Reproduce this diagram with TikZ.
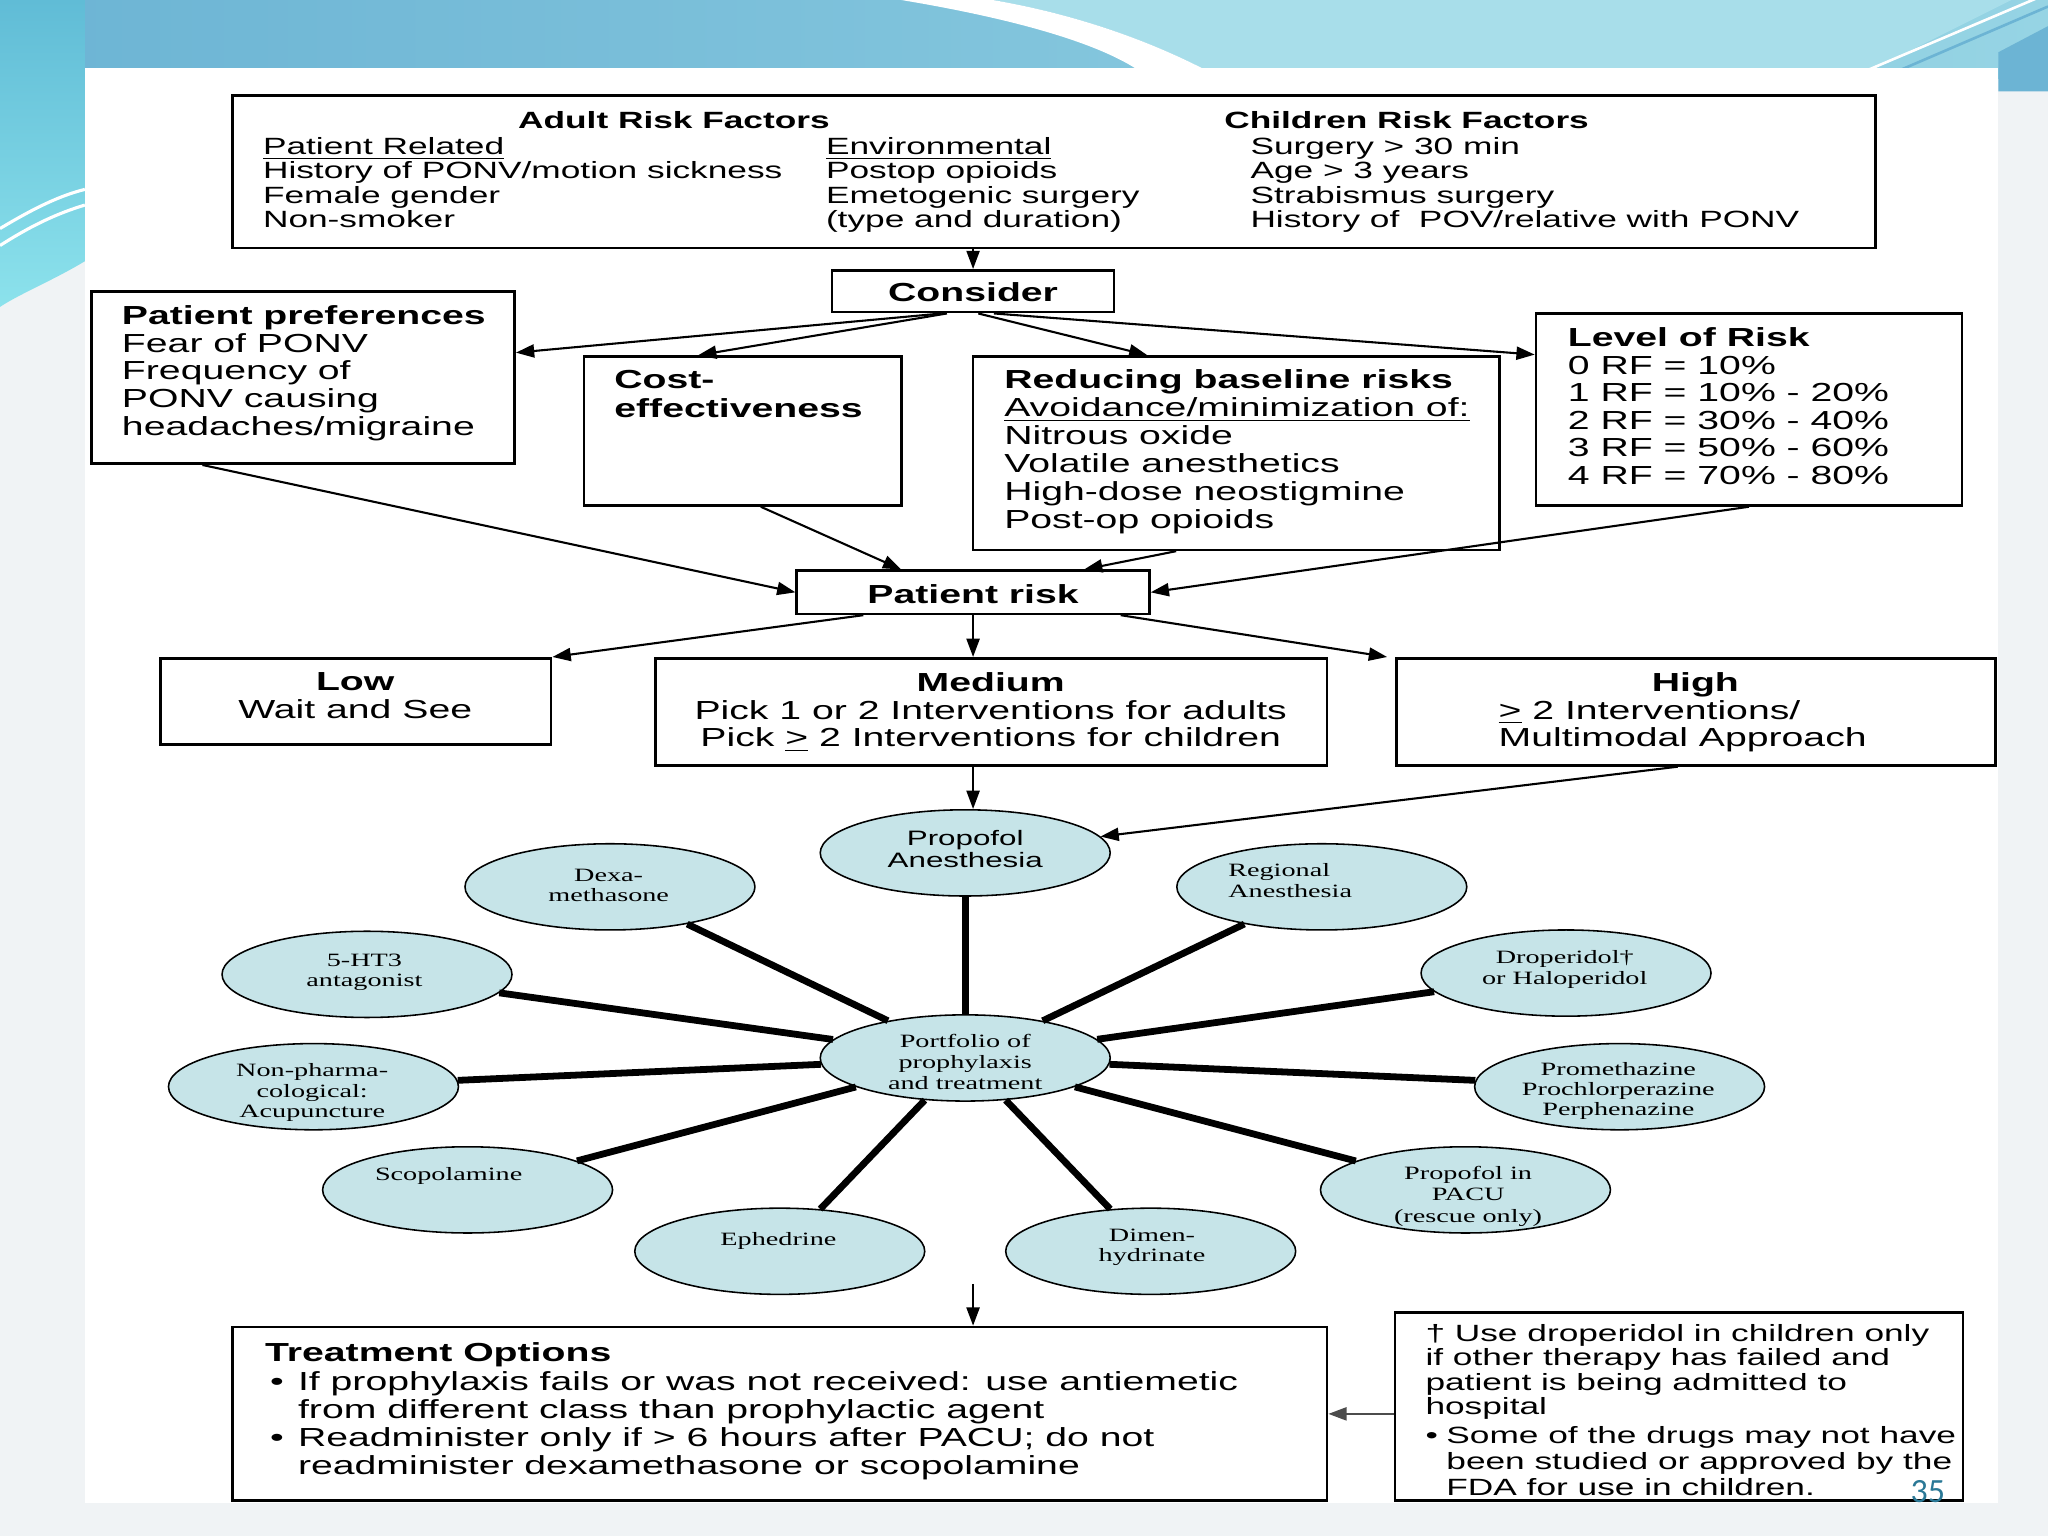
\documentclass[tikz,border=0pt]{standalone}
\usepackage{fontspec}
\setmainfont{Liberation Sans}[FakeStretch=1.5]
\newfontfamily\serstretch{Liberation Serif}[FakeStretch=1.5]
\newfontfamily\pagenumfont{Carlito}
\usetikzlibrary{arrows.meta, shapes.geometric, fit}
\definecolor{ellfill}{RGB}{198,228,232}
\definecolor{bgpat}{RGB}{240,243,245}
\definecolor{topL}{RGB}{108,180,212}
\definecolor{topR}{RGB}{150,212,228}
\definecolor{topLight}{RGB}{168,222,234}
\definecolor{leftA}{RGB}{96,188,214}
\definecolor{leftB}{RGB}{140,226,236}
\definecolor{pagenum}{RGB}{42,120,150}
\tikzset{
  box/.style={draw, line width=1pt, rectangle, inner sep=0pt},
  tx/.style={inner sep=0pt, align=left, anchor=north west},
  f9/.style={font=\fontsize{9}{9.35}\selectfont},
  f10/.style={font=\fontsize{10}{10.55}\selectfont},
  arr/.style={line width=0.8pt, -{Triangle[length=7pt,width=5pt]}},
  ell/.style={ellipse, draw, line width=0.6pt, fill=ellfill, inner sep=0pt, minimum width=111pt, minimum height=33pt},
  et/.style={inner sep=0pt, align=center, anchor=north, font=\serstretch\fontsize{7.2}{8}\selectfont},
  spoke/.style={line width=2.6pt},
}
\begin{document}
\begin{tikzpicture}[x=0.5pt, y=-0.5pt]
\useasboundingbox (0,0) rectangle (1568,1176);
% ---------- slide background ----------
\fill[bgpat] (0,0) rectangle (1568,1176);
\shade[left color=topL, right color=topR] (0,0) rectangle (1568,60);
\fill[topLight] (760,0) .. controls (830,12) and (890,35) .. (935,60) -- (1420,60) -- (1540,0) -- cycle;
\fill[white] (690,0) .. controls (780,15) and (850,35) .. (880,60) -- (935,60) .. controls (890,35) and (830,12) .. (760,0) -- cycle;
\draw[white, line width=1pt] (1415,60) -- (1568,-5);
\draw[topL, line width=1pt] (1440,60) -- (1568,5);
\fill[topL] (1530,40) -- (1568,20) -- (1568,70) -- (1530,70) -- cycle;
\shade[top color=leftA, bottom color=leftB] (0,0) -- (65,0) -- (65,200) .. controls (40,215) and (15,225) .. (0,235) -- cycle;
\draw[white, line width=1.2pt] (0,175) .. controls (25,160) and (45,150) .. (65,145);
\draw[white, line width=1.2pt] (0,188) .. controls (25,172) and (45,163) .. (65,157);
\fill[white] (65,52) rectangle (1530,1151);
% ---------- boxes ----------
\node[box, fit={(178,73) (1436,190)}] (topbox) {};
\node[box, fit={(637,207) (853,239)}] (consider) {};
\node[box, fit={(70,223) (394,355)}] (pref) {};
\node[box, fit={(447,273) (690,387)}] (cost) {};
\node[box, fit={(745,273) (1148,421)}] (red) {};
\node[box, fit={(1176,240) (1502,387)}] (lor) {};
\node[box, fit={(610,437) (880,470)}] (prisk) {};
\node[box, fit={(123,504) (422,570)}] (low) {};
\node[box, fit={(502,504) (1016,586)}] (med) {};
\node[box, fit={(1069,504) (1528,586)}] (high) {};
\node[box, fit={(178,1016) (1016,1149)}] (treat) {};
\node[box, fit={(1068,1005) (1503,1149)}] (foot) {};
% ---------- texts ----------
\node[inner sep=0pt, anchor=north, font=\bfseries\fontsize{9}{9.35}\selectfont] (hA) at (516,84.6) {Adult Risk Factors};
\node[tx, font=\bfseries\fontsize{9}{9.35}\selectfont] (hC) at (937,84.6) {Children Risk Factors};
\node[tx,f9] (c1) at (201,104.6) {\underline{Patient Related}\\History of PONV/motion sickness\\Female gender\\Non-smoker};
\node[tx,f9] (c2) at (632,104.6) {\underline{Environmental}\\Postop opioids\\Emetogenic surgery\\(type and duration)};
\node[tx,f9] (c3) at (957,104.6) {Surgery > 30 min\\Age > 3 years\\Strabismus surgery\\History of\ \ POV/relative with PONV};
\node[inner sep=0pt, font=\bfseries\fontsize{10}{10.55}\selectfont] (constxt) at (745,224) {Consider};
\node[tx,f10] (preft) at (93,233.8) {\textbf{Patient preferences}\\Fear of PONV\\Frequency of\\PONV causing\\headaches/migraine};
\node[tx, font=\bfseries\fontsize{10}{11.3}\selectfont] (costt) at (470,282.8) {Cost-\\effectiveness};
\node[tx, font=\fontsize{10}{10.7}\selectfont] (redt) at (768.5,282.8) {\textbf{Reducing baseline risks}\\\underline{Avoidance/minimization of:}\\Nitrous oxide\\Volatile anesthetics\\High-dose neostigmine\\Post-op opioids};
\node[tx,f10] (lort) at (1200,250.6) {\textbf{Level of Risk}\\0 RF = 10\%\\1 RF = 10\% - 20\%\\2 RF = 30\% - 40\%\\3 RF = 50\% - 60\%\\4 RF = 70\% - 80\%};
\node[inner sep=0pt, font=\bfseries\fontsize{10}{10.55}\selectfont] (prt) at (745,455) {Patient risk};
\node[inner sep=0pt, align=center, anchor=north, f10] (lowt) at (272,514.8) {\textbf{Low}\\Wait and See};
\node[inner sep=0pt, align=center, anchor=north, font=\fontsize{10}{10.5}\selectfont] (medt) at (758.5,514.8) {\textbf{Medium}\\Pick 1 or 2 Interventions for adults\\Pick \underline{>} 2 Interventions for children};
\node[inner sep=0pt, anchor=north, font=\bfseries\fontsize{10}{10.5}\selectfont] (hight) at (1298,514.8) {High};
\node[tx, font=\fontsize{10}{10.5}\selectfont] (hight2) at (1147,535.8) {\underline{>} 2 Interventions/\\Multimodal Approach};
\node[tx, font=\bfseries\fontsize{10}{10.65}\selectfont] (treatt) at (202.6,1027.8) {Treatment Options};
\node[tx, font=\fontsize{10}{10.65}\selectfont] (treatb) at (206.5,1049.8) {\makebox[10.65pt][l]{•}If prophylaxis fails or was not received: use antiemetic\\\hspace*{10.65pt}from different class than prophylactic agent\\\makebox[10.65pt][l]{•}Readminister only if > 6 hours after PACU; do not\\\hspace*{10.65pt}readminister dexamethasone or scopolamine};
\node[tx,f9] (foott) at (1091,1013.6) {† Use droperidol in children only\\if other therapy has failed and\\patient is being admitted to\\hospital};
\node[tx, font=\fontsize{9}{10}\selectfont] (footb) at (1091,1091.6) {\makebox[8pt][l]{•}Some of the drugs may not have\\\hspace*{8pt}been studied or approved by the\\\hspace*{8pt}FDA for use in children.};
\node[inner sep=0pt, font=\pagenumfont\fontsize{13}{13}\selectfont, text=pagenum] (pnum) at (1476,1142) {35};
% ---------- flow arrows ----------
\draw[arr] (consider.north |- topbox.south) -- (consider.north);
\draw[arr] ([xshift=-12pt]consider.south) -- ([yshift=9.5pt]pref.east);
\draw[arr] ([xshift=-10pt]consider.south) -- ([xshift=-17pt]cost.north);
\draw[arr] ([xshift=2pt]consider.south) -- ([xshift=-34pt]red.north);
\draw[arr] ([xshift=8pt]consider.south) -- ([yshift=21pt]lor.west);
\draw[arr] ([xshift=-38.5pt]pref.south) -- (prisk.west);
\draw[arr] ([xshift=7pt]cost.south) -- ([xshift=-27.5pt]prisk.north);
\draw[arr] ([xshift=-23pt]red.south) -- ([xshift=42.5pt]prisk.north);
\draw[arr] (lor.south) -- (prisk.east);
\draw[arr] ([xshift=-42pt]prisk.south) -- (low.north east);
\draw[arr] (prisk.south) -- (prisk.south |- med.north);
\draw[arr] ([xshift=56.5pt]prisk.south) -- ([xshift=-3pt]high.north west);
% ---------- ellipses ----------
\node[ell] (prop) at (739,653) {};
\node[ell] (dexa) at (467,679) {};
\node[ell] (reg) at (1012,679) {};
\node[ell] (ht3) at (281,746) {};
\node[ell] (drop) at (1199,745) {};
\node[ell] (nonph) at (240,832) {};
\node[ell] (prom) at (1240,832) {};
\node[ell] (port) at (739,810) {};
\node[ell] (scop) at (358,911) {};
\node[ell] (pacu) at (1122,911) {};
\node[ell] (eph) at (597,958) {};
\node[ell] (dimen) at (881,958) {};
\draw[arr] (prisk.south |- med.south) -- (prisk.south |- prop.north);
\draw[arr] ([xshift=-7pt]high.south) -- (prop);
\foreach \e in {prop,dexa,reg,ht3,drop,nonph,prom,scop,pacu,eph,dimen}
  \draw[spoke] (port) -- (\e);
% ellipse texts
\node[inner sep=0pt, align=center, anchor=north, font=\fontsize{8}{8.5}\selectfont] (propt) at (739,635.3) {Propofol\\Anesthesia};
\node[et] (dexat) at (466,664.7) {Dexa-\\methasone};
\node[tx, font=\serstretch\fontsize{7.2}{7.75}\selectfont] (regt) at (940,660.9) {Regional\\Anesthesia};
\node[et] (ht3t) at (279,729.7) {5-HT3\\antagonist};
\node[et] (dropt) at (1198,727.2) {Droperidol†\\or Haloperidol};
\node[et, font=\serstretch\fontsize{7.2}{7.9}\selectfont] (nonpht) at (239,813.9) {Non-pharma-\\cological:\\Acupuncture};
\node[et, font=\serstretch\fontsize{7.2}{7.65}\selectfont] (promt) at (1239,812.7) {Promethazine\\Prochlorperazine\\Perphenazine};
\node[et, font=\serstretch\fontsize{7.2}{8.1}\selectfont] (portt) at (739,791.2) {Portfolio of\\prophylaxis\\and treatment};
\node[et, font=\serstretch\fontsize{7.2}{8.35}\selectfont] (pacut) at (1124,892.2) {Propofol in\\PACU\\(rescue only)};
\node[et, font=\serstretch\fontsize{7.2}{7.65}\selectfont] (diment) at (882,940.9) {Dimen-\\hydrinate};
\node[et] (scopt) at (343.5,893.7) {Scopolamine};
\node[et] (epht) at (596,942.9) {Ephedrine};
% ---------- bottom arrows ----------
\coordinate (tstart) at (745,983);
\draw[arr] (tstart) -- (tstart |- treat.north);
\draw[arr, draw=black!70, fill=black] (foot.west |- treat.east) -- (treat.east);
\end{tikzpicture}
\end{document}
